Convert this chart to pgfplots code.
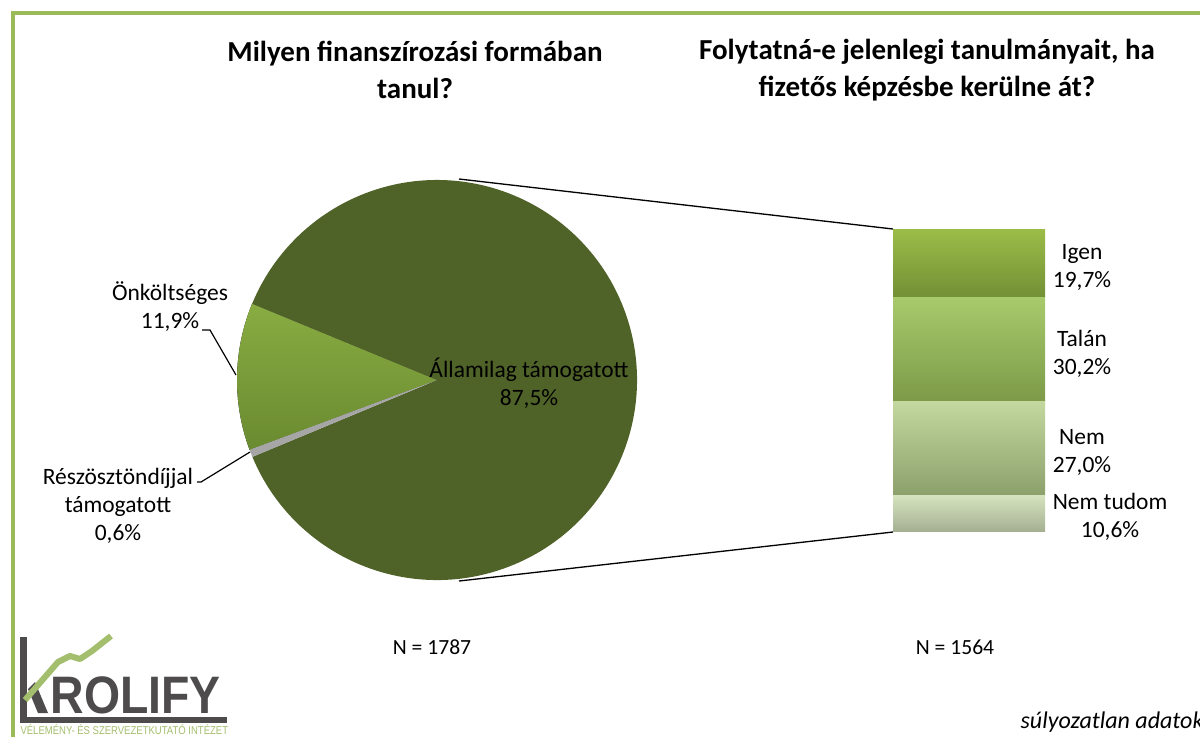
\documentclass[border=0pt]{standalone}
\usepackage{fontspec}
\setmainfont{Carlito}
\newfontfamily\logofont{Liberation Sans}
\usepackage{pgfplots}
\usepackage{pgfplotstable}
\pgfplotsset{compat=1.18}

\definecolor{framegreen}{RGB}{155,187,89}
\definecolor{allam}{RGB}{79,98,40}
\definecolor{onktop}{RGB}{137,172,66}
\definecolor{onkbot}{RGB}{106,138,48}
\definecolor{reszgray}{RGB}{166,166,166}
\definecolor{igentop}{RGB}{155,189,72}
\definecolor{igenbot}{RGB}{114,144,54}
\definecolor{talantop}{RGB}{168,202,108}
\definecolor{talanbot}{RGB}{124,154,72}
\definecolor{nemtop}{RGB}{194,216,158}
\definecolor{nembot}{RGB}{140,160,108}
\definecolor{ntudtop}{RGB}{214,227,190}
\definecolor{ntudbot}{RGB}{164,175,146}
\definecolor{logogray}{RGB}{77,75,76}
\definecolor{logogreen}{RGB}{163,190,108}

% pie: share of the respondents by type of financing
\pgfplotstableread{
slice value
Allamilag 87.5
Onkoltseges 11.9
Reszosztondijjal 0.6
}\pietable

% bar: answers of the state-funded group (percent of all)
\pgfplotstableread{
x Igen Talan Nem NemTudom
0 19.7 30.2 27.0 10.6
}\bartable

\pgfplotstablegetelem{0}{value}\of\pietable \let\vAllam\pgfplotsretval
\pgfplotstablegetelem{1}{value}\of\pietable \let\vOnk\pgfplotsretval
\pgfplotstablegetelem{2}{value}\of\pietable \let\vResz\pgfplotsretval
\pgfmathsetmacro\aA{157.6}
\pgfmathsetmacro\aB{\aA+3.6*\vOnk}
\pgfmathsetmacro\aC{\aB+3.6*\vResz}
\pgfmathsetmacro\aD{\aC+3.6*\vAllam}
\pgfmathsetmacro\R{200*16/1200}

\begin{document}%
\begin{tikzpicture}
\path[use as bounding box] (0,0) rectangle (16cm,9.82667cm);
\begin{axis}[
    at={(0,0)}, anchor=south west, scale only axis,
    width=16cm, height=9.82667cm,
    xmin=0, xmax=1200, ymin=0, ymax=737, y dir=reverse,
    hide axis, clip=false,
]
% frame
\draw[framegreen, line width=1.2pt] (axis cs:1200,13) -- (axis cs:13,13) -- (axis cs:13,737);

% titles
\node[font=\bfseries\fontsize{11}{14.3}\selectfont, align=center] at (axis cs:415,70)
    {Milyen finanszírozási formában\\tanul?};
\node[font=\bfseries\fontsize{11}{14.3}\selectfont, align=center] at (axis cs:927,70)
    {Folytatná-e jelenlegi tanulmányait, ha\\fizetős képzésbe kerülne át?};

% pie
\fill[allam] (axis cs:437,380) -- ++(\aC:\R cm) arc[start angle=\aC, end angle=\aD, radius=\R cm] -- cycle;
\fill[top color=onktop, bottom color=onkbot] (axis cs:437,380) -- ++(\aA:\R cm) arc[start angle=\aA, end angle=\aB, radius=\R cm] -- cycle;
\fill[reszgray] (axis cs:437,380) -- ++(\aB:\R cm) arc[start angle=\aB, end angle=\aC, radius=\R cm] -- cycle;

% connectors
\draw[black, line width=0.5pt] (axis cs:459,179) -- (axis cs:893,229);
\draw[black, line width=0.5pt] (axis cs:459,581) -- (axis cs:893,532);

% leader lines
\draw[black, line width=0.45pt] (axis cs:202,330) -- (axis cs:210,330) -- (axis cs:236,375);
\draw[black, line width=0.45pt] (axis cs:197,482) -- (axis cs:201,482) -- (axis cs:250,452);

% labels
\tikzset{lbl/.style={font=\fontsize{8.9}{10.6}\selectfont, align=center}}
\node[lbl] at (axis cs:170,307) {Önköltséges\\11,9\%};
\node[lbl] at (axis cs:118,506) {Részösztöndíjjal\\támogatott\\0,6\%};
\node[lbl] at (axis cs:529,383) {Államilag támogatott\\87,5\%};
\node[lbl] at (axis cs:1082,267) {Igen\\19,7\%};
\node[lbl] at (axis cs:1082,354) {Talán\\30,2\%};
\node[lbl] at (axis cs:1082,452) {Nem\\27,0\%};
\node[lbl] at (axis cs:1110,517) {Nem tudom\\10,6\%};
\node[lbl, font=\fontsize{8.2}{10}\selectfont] at (axis cs:432,647) {N = 1787};
\node[lbl, font=\fontsize{8.2}{10}\selectfont] at (axis cs:955,647) {N = 1564};
\node[font=\itshape\fontsize{9.1}{10}\selectfont, anchor=east, inner sep=0pt] at (axis cs:1204,722) {súlyozatlan adatok};

% logo
\fill[logogray] (axis cs:20,637) rectangle (axis cs:27,723);
\fill[logogray] (axis cs:20,717) rectangle (axis cs:227,723);
\fill[logogray] (axis cs:28,689) -- (axis cs:35,682) -- (axis cs:48,713) -- (axis cs:38,713) -- cycle;
\draw[logogreen, line width=2.3pt, line join=round]
    (axis cs:25,700) -- (axis cs:58,662) -- (axis cs:70,656) -- (axis cs:80,659) -- (axis cs:92,651) -- (axis cs:111,636);
\node[anchor=base west, inner sep=0pt, text=logogray, font=\logofont\bfseries\fontsize{20}{21}\selectfont] at (axis cs:50,713) {\scalebox{0.88}[1]{ROLIFY}};
\node[anchor=base west, inner sep=0pt, text=logogreen, font=\logofont\fontsize{4.3}{5}\selectfont] at (axis cs:20,734)
    {\scalebox{0.84}[1]{VÉLEMÉNY- ÉS SZERVEZETKUTATÓ INTÉZET}};
\end{axis}

% stacked bar of the 87.5% slice
\begin{axis}[
    at={(11.90667cm,2.73333cm)}, anchor=south west, scale only axis,
    width=2.02667cm, height=4.04cm,
    xmin=-0.5, xmax=0.5, ymin=0, ymax=87.5,
    ybar stacked, bar width=2.02667cm, bar shift=0pt,
    hide axis, clip=false,
]
\addplot[draw=none, top color=ntudtop, bottom color=ntudbot] table[x=x, y=NemTudom] {\bartable};
\addplot[draw=none, top color=nemtop, bottom color=nembot] table[x=x, y=Nem] {\bartable};
\addplot[draw=none, top color=talantop, bottom color=talanbot] table[x=x, y=Talan] {\bartable};
\addplot[draw=none, top color=igentop, bottom color=igenbot] table[x=x, y=Igen] {\bartable};
\end{axis}
\end{tikzpicture}%
\end{document}
